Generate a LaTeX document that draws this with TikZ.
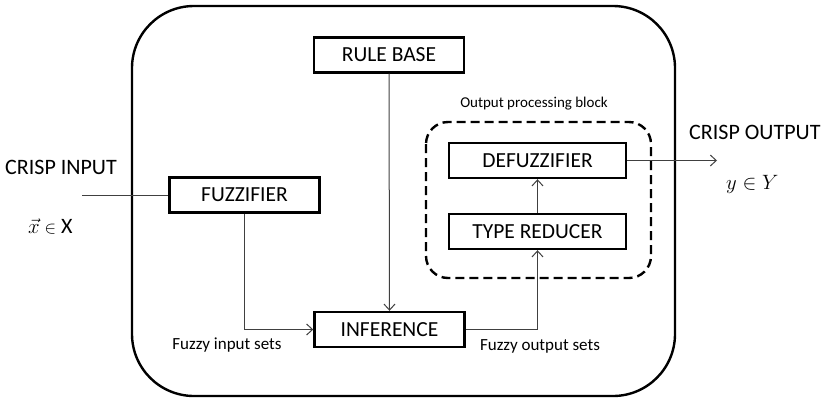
\documentclass[tikz,border=0pt]{standalone}
\usepackage{fontspec}
\setmainfont{Carlito}
\usetikzlibrary{arrows.meta,positioning}
\begin{document}
\begin{tikzpicture}[x=1pt,y=-1pt,
  block/.style={draw=black,line width=2.4pt,inner sep=0pt,
    minimum height=35pt,font=\fontsize{21.5}{24}\selectfont},
  narrowblock/.style={block,minimum width=150pt},
  wideblock/.style={block,minimum width=177pt},
  link/.style={draw=black!75,line width=1pt},
  arrowlink/.style={link,-{Straight Barb[length=6pt,width=11pt,line width=1pt]}},
  smalllabel/.style={font=\fontsize{17}{20}\selectfont,inner sep=0pt},
  biglabel/.style={font=\fontsize{22}{26}\selectfont,inner sep=0pt}]
\useasboundingbox (0,0) rectangle (827,400);

% the fuzzy logic system enclosure
\draw[line width=2.4pt,rounded corners=62pt] (132,6) rectangle (675,396);

% output processing group
\draw[line width=2.4pt,dash pattern=on 9pt off 5pt,rounded corners=22pt]
  (426,122) rectangle (651,278);
\node[font=\fontsize{15}{18}\selectfont,inner sep=0pt] (grouplabel) at (534,104) {Output processing block};

% processing blocks
\node[narrowblock] (rules) at (389,55) {RULE BASE};
\node[narrowblock] (fuzz) at (244.5,195) {FUZZIFIER};
\node[narrowblock] (infer) at (389.5,329.5) {INFERENCE};
\node[wideblock] (defuzz) at (537.5,160.5) {DEFUZZIFIER};
\node[wideblock] (reducer) at (537.5,231.5) {TYPE REDUCER};

% external terminals
\coordinate (inpt) at (82,195);
\coordinate (outpt) at (717,160.5);
\node[biglabel,anchor=west] (crispin) at (5,167) {CRISP INPUT};
\node[biglabel,anchor=west] (xin) at (28,226) {$\vec{x}$ {\fontsize{18}{20}\selectfont$\in$} X};
\node[biglabel,anchor=west] (crispout) at (689,132) {CRISP OUTPUT};
\node[biglabel,anchor=west] (yout) at (726,184) {$y\in Y$};

% connectors
\draw[link] (inpt) -- (fuzz.west);
\draw[arrowlink] (fuzz.south) |- (infer.west);
\draw[arrowlink] (rules.south) -- (infer.north);
\draw[arrowlink] (infer.east) -| (reducer.south);
\draw[arrowlink] (reducer.north) -- (defuzz.south);
\draw[arrowlink] (defuzz.east) -- (outpt);

% set labels
\node[smalllabel] (inlabel) at (227,345) {Fuzzy input sets};
\node[smalllabel] (outlabel) at (540,346) {Fuzzy output sets};
\end{tikzpicture}
\end{document}
